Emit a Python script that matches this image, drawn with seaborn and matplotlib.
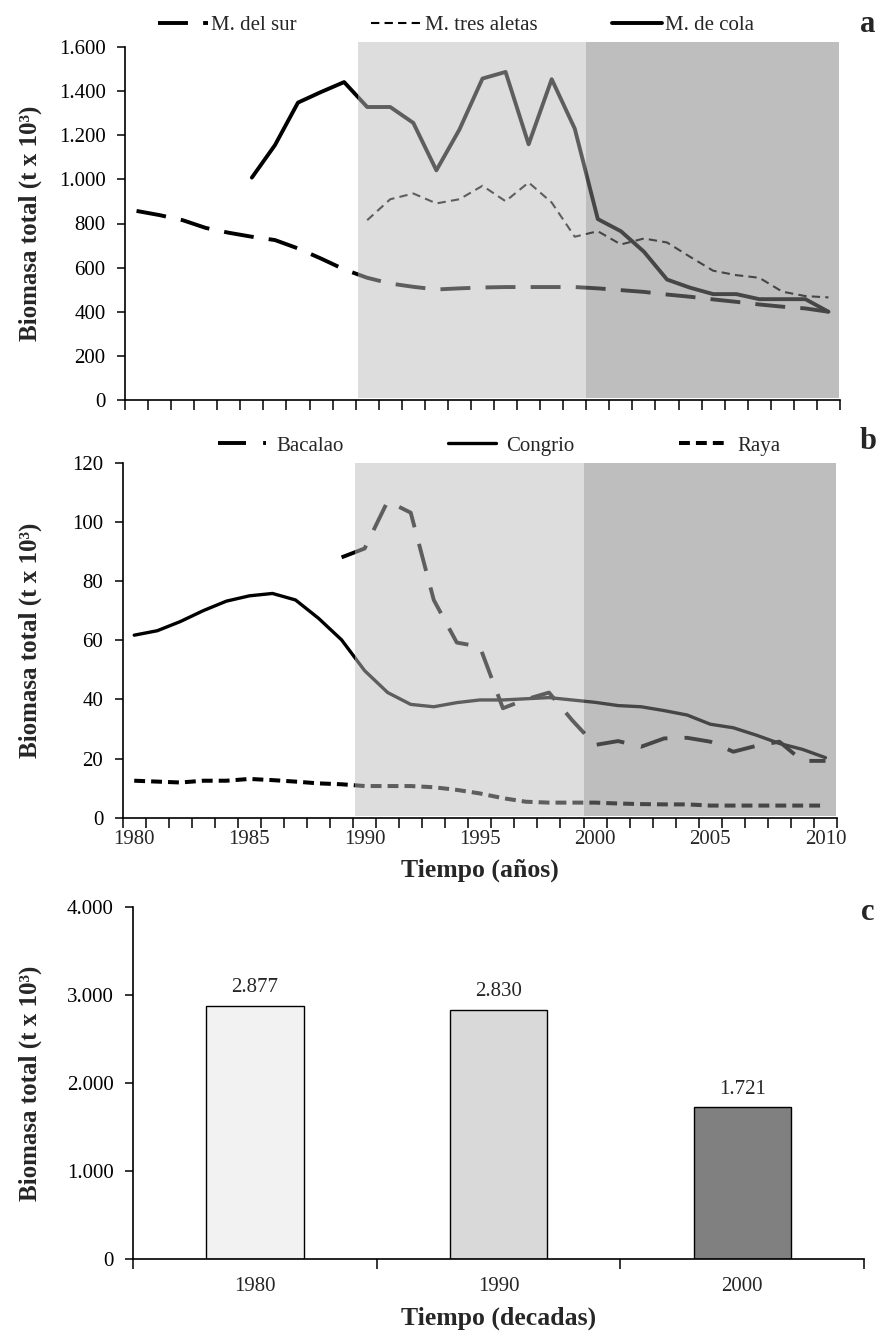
"""Biomasa total: series anuales (a, b) y totales por década (c)."""

import numpy as np
import seaborn as sns
from matplotlib import pyplot as plt
from matplotlib.ticker import FuncFormatter

sns.set_style("ticks")
plt.rcParams['font.family'] = ['Liberation Serif', 'DejaVu Serif']

###############################################################################
# Data (t x 10^3)
years = list(range(1980, 2011))

sur_years = years
sur = [857, 838, 815, 780, 758, 740, 725, 687, 641, 592,
       554, 528, 513, 501, 506, 510, 512, 512, 512, 512,
       506, 498, 490, 478, 468, 456, 445, 433, 423, 415, 400]

aletas_years = list(range(1990, 2011))
aletas = [815, 910, 936, 891, 910, 971, 901, 986, 895, 740,
          765, 705, 732, 714, 649, 586, 566, 554, 491, 471, 465]

cola_years = list(range(1985, 2011))
cola = [1008, 1155, 1348, 1396, 1441,
        1328, 1328, 1256, 1041, 1226, 1457, 1487, 1159, 1454, 1230,
        820, 765, 672, 546, 509, 480, 480, 457, 457, 457, 400]

bacalao_years = list(range(1989, 2011))
bacalao = [88.0,
           91.0, 107.0, 103.1, 73.6, 59.2, 57.8, 37.0, 40.0, 42.3, 33.0,
           24.6, 25.9, 24.0, 26.8, 27.0, 25.7, 22.3, 24.3, 25.7, 19.2, 19.2]

congrio_years = years
congrio = [61.7, 63.2, 66.3, 70.0, 73.2, 75.0, 75.8, 73.6, 67.4, 60.1,
           49.7, 42.3, 38.3, 37.5, 38.9, 39.8, 39.8, 40.2, 40.6, 39.8,
           39.0, 37.9, 37.5, 36.2, 34.7, 31.6, 30.4, 27.9, 25.1, 23.1, 20.3]

raya_years = years
raya = [12.5, 12.2, 11.9, 12.5, 12.5, 13.1, 12.7, 12.2, 11.6, 11.3,
        10.7, 10.7, 10.7, 10.3, 9.4, 8.2, 6.6, 5.4, 5.1, 5.1,
        5.1, 4.8, 4.6, 4.5, 4.5, 4.1, 4.1, 4.1, 4.1, 4.1, 4.1]

decades = ["1980", "1990", "2000"]
totals = [2877, 2830, 1721]
bar_colors = ["#f2f2f2", "#d9d9d9", "#808080"]

# periods shaded in a and b
light_span = (1989.6, 1999.5)
dark_span = (1999.5, 2010.45)

FS = 15
W, H = 885, 1334


def miles(v, pos=None):
    return f"{v:,.0f}".replace(",", ".")


def style_axis(ax):
    sns.despine(ax=ax)
    for sp in ax.spines.values():
        sp.set_linewidth(1.2)
        sp.set_color("black")
        sp.set_zorder(5)
    ax.tick_params(axis="y", direction="out", length=6, width=1.1,
                   pad=8, labelsize=FS, colors="black")
    ax.yaxis.set_major_formatter(FuncFormatter(miles))
    ax.set_xlabel("")
    ax.set_ylabel("")


def year_axis(ax, labels):
    ax.set_xlim(1979.5, 2010.5)
    ax.set_xticks(np.arange(1979.5, 2011, 1), minor=True)
    ax.tick_params(axis="x", which="minor", direction="out", length=7,
                   width=1.1, color="black")
    if labels:
        ax.set_xticks(range(1980, 2011, 5))
        ax.tick_params(axis="x", which="major", length=0, pad=9,
                       labelsize=FS)
    else:
        ax.set_xticks([])


def shade(ax, ymin, ymax):
    r1 = ax.axvspan(*light_span, ymin=ymin, ymax=ymax, color="#bcbcbc",
                    alpha=0.506, lw=0, zorder=3)
    r2 = ax.axvspan(*dark_span, ymin=ymin, ymax=ymax, color="#858585",
                    alpha=0.533, lw=0, zorder=3)
    r1.set_clip_on(False)
    r2.set_clip_on(False)


fig = plt.figure(figsize=(W / 100, H / 100), dpi=100)

###############################################################################
# a: merluzas
ax_a = fig.add_axes([125 / W, 1 - 400 / H, 715 / W, 353 / H])
sns.lineplot(x=sur_years, y=sur, ax=ax_a, color="black", lw=2.8,
             linestyle=(0, (7.7, 3.9)), label="M. del sur")
sns.lineplot(x=aletas_years, y=aletas, ax=ax_a, color="black", lw=1.5,
             linestyle=(0, (4.0, 2.5)), label="M. tres aletas")
sns.lineplot(x=cola_years, y=cola, ax=ax_a, color="black", lw=2.8,
             label="M. de cola")
ax_a.set_ylim(0, 1600)
ax_a.set_yticks(range(0, 1601, 200))
style_axis(ax_a)
year_axis(ax_a, labels=False)
shade(ax_a, 0.006, 1.014)
ax_a.legend(loc="center", bbox_to_anchor=(456 / W, 1 - 25 / H),
            bbox_transform=fig.transFigure, ncol=3, frameon=False,
            fontsize=FS, handlelength=2.4, handletextpad=0.15,
            columnspacing=3.6, borderpad=0, borderaxespad=0)

###############################################################################
# b: bacalao, congrio, raya
ax_b = fig.add_axes([122.7 / W, 1 - 817.7 / H, 714.3 / W, 355 / H])
sns.lineplot(x=bacalao_years, y=bacalao, ax=ax_b, color="black", lw=2.8,
             linestyle=(0, (7.2, 4.4)), label="Bacalao")
sns.lineplot(x=congrio_years, y=congrio, ax=ax_b, color="black", lw=2.4,
             label="Congrio")
sns.lineplot(x=raya_years, y=raya, ax=ax_b, color="black", lw=2.9,
             linestyle=(0, (2.7, 1.5)), label="Raya")
ax_b.set_ylim(0, 120)
ax_b.set_yticks(range(0, 121, 20))
style_axis(ax_b)
year_axis(ax_b, labels=True)
shade(ax_b, 0.004, 1.0)
ax_b.legend(loc="center", bbox_to_anchor=(499 / W, 1 - 446 / H),
            bbox_transform=fig.transFigure, ncol=3, frameon=False,
            fontsize=FS, handlelength=2.3, handletextpad=0.5,
            columnspacing=5.0, borderpad=0, borderaxespad=0)

###############################################################################
# c: total por década
ax_c = fig.add_axes([133.3 / W, 1 - 1259 / H, 730.7 / W, 352.3 / H])
sns.barplot(x=decades, y=totals, hue=decades, palette=bar_colors,
            width=0.4, edgecolor="black", linewidth=1, legend=False,
            ax=ax_c)
ax_c.set_ylim(0, 4000)
ax_c.set_yticks(range(0, 4001, 1000))
ax_c.set_xlim(-0.5, 2.5)
style_axis(ax_c)
ax_c.set_xticks([-0.5, 0.5, 1.5, 2.5], minor=True)
ax_c.tick_params(axis="x", which="minor", direction="out", length=7,
                 width=1.1, color="black")
ax_c.tick_params(axis="x", which="major", length=0, pad=13, labelsize=FS)
for cont in ax_c.containers:
    ax_c.bar_label(cont, labels=[miles(v) for v in cont.datavalues],
                   padding=6, fontsize=FS)

###############################################################################
# texts
ylab = "Biomasa total (t x 10³)"
for ax, top, bot in [(ax_a, 47, 400), (ax_b, 462.7, 817.7),
                     (ax_c, 906.7, 1259)]:
    fig.text(30 / W, 1 - (top + bot) / 2 / H, ylab, rotation=90,
             ha="center", va="center", fontsize=18, fontweight="bold")

fig.text(480 / W, 1 - 870 / H, "Tiempo (años)", ha="center", va="center",
         fontsize=18.5, fontweight="bold")
fig.text(499 / W, 1 - 1318 / H, "Tiempo (decadas)", ha="center",
         va="center", fontsize=18.5, fontweight="bold")

for letter, y in [("a", 25), ("b", 442), ("c", 913)]:
    fig.text(868 / W, 1 - y / H, letter, ha="center", va="center",
             fontsize=22, fontweight="bold")

fig.savefig("out.png", dpi=100)
